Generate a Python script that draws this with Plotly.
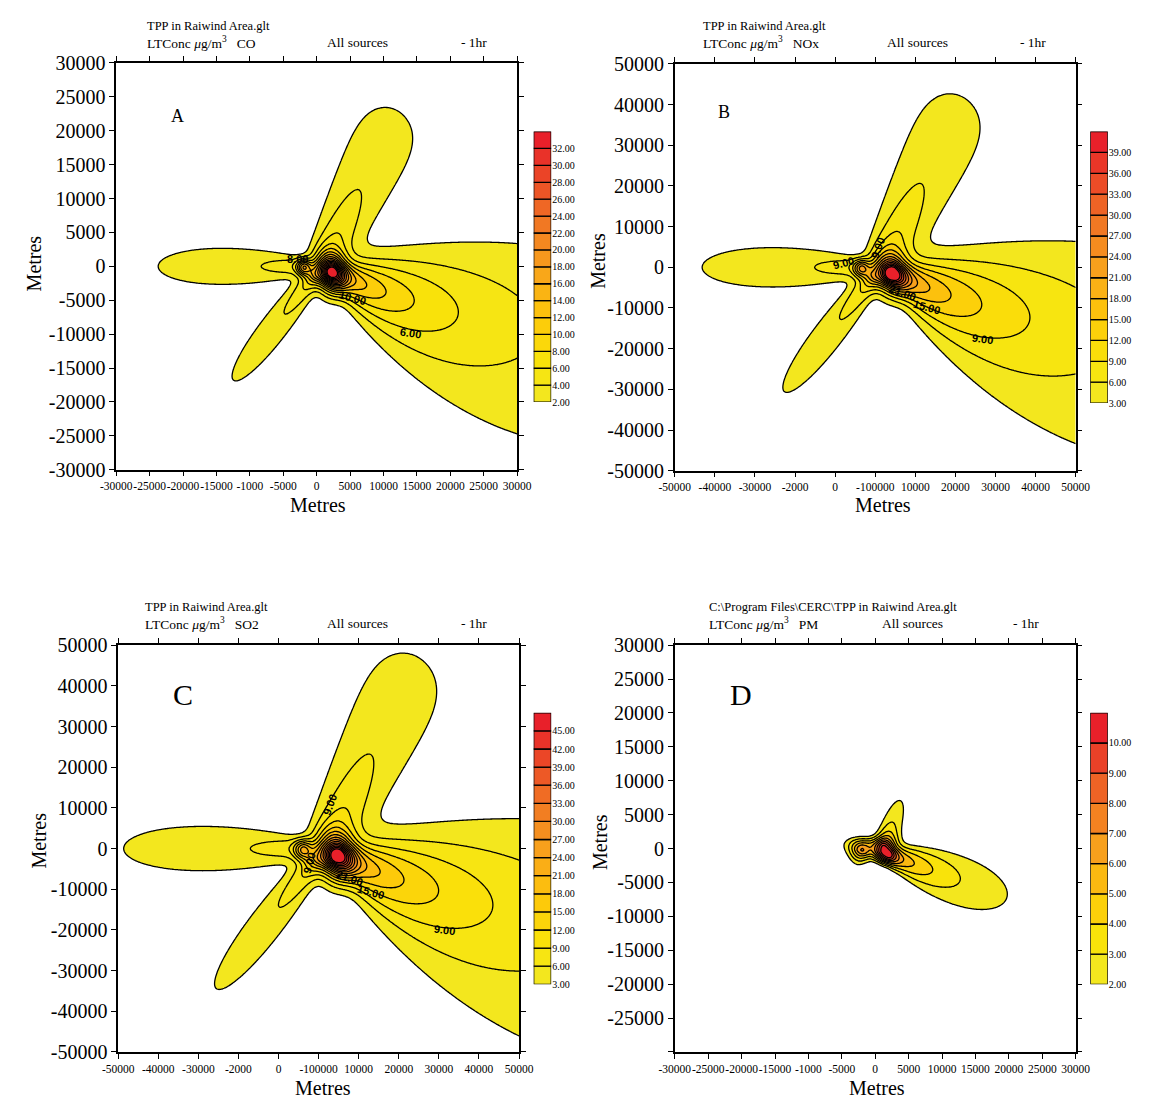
import numpy as np
import plotly.graph_objects as go

W, H = 1152, 1110

# ---------------- contour levels (from the colour keys) ----------------
A_levels = [2, 4, 6, 8, 10, 12, 14, 16, 18, 20, 22, 24, 26, 28, 30, 32]
B_levels = [3, 6, 9, 12, 15, 18, 21, 24, 27, 30, 33, 36, 39]
C_levels = [3, 6, 9, 12, 15, 18, 21, 24, 27, 30, 33, 36, 39, 42, 45]
D_levels = [2, 3, 4, 5, 6, 7, 8, 9, 10]

# ---------------- tick labels as printed ----------------
X30_vals = [-30000, -25000, -20000, -15000, -10000, -5000, 0, 5000, 10000, 15000, 20000, 25000, 30000]
X30_text = ["-30000", "-25000", "-20000", "-15000", "-1000", "-5000", "0", "5000", "10000", "15000", "20000", "25000", "30000"]
X50_vals = [-50000, -40000, -30000, -20000, -10000, 0, 10000, 20000, 30000, 40000, 50000]
X50_text = ["-50000", "-40000", "-30000", "-2000", "0", "-100000", "10000", "20000", "30000", "40000", "50000"]
Y30_vals = X30_vals
Y30_text = [str(v) for v in X30_vals]
Y30D_text = [""] + [str(v) for v in X30_vals[1:]]
Y50_vals = X50_vals
Y50_text = [str(v) for v in X50_vals]

# ---------------- plume description read from panels A-C (metres, CO units) ----------------
# lobes: SE, E, NNE near, NNE far, W, SW
PL_x0 = [2500, 2500, 1000, 1000, -2000, -500]
PL_y0 = [-1000, -500, 0, 0, 0, -1500]
PL_angle = [-29, -6, 66, 63, 180, 232]
PL_amp = [12.5, 5.5, 8.0, 2.5, 5.8, 6.8]
PL_len = [28000, 61700, 10000, 1000000, 30900, 23000]
PL_cut = [1e9, 1e9, 1e9, 27500, 1e9, 1e9]
PL_w0 = [900, 1300, 1500, 2000, 900, 900]
PL_spread = [0.27, 0.24, 0.10, 0.18, 0.17, 0.11]
# hot spots: main stack, second stack
HS_x = [2300, -2000]
HS_y = [-1300, -200]
HS_sx = [1400, 700]
HS_sy = [2100, 800]
A_hs_amp = [14.0, 8.0]
B_hs_amp = [14.0, 10.0]
C_hs_amp = [19.0, 10.0]
# extent / value scale of each panel relative to panel A
A_xy, B_xy, C_xy = 1.0, 1.82, 2.05
A_val, B_val, C_val = 1.0, 1.5, 1.5

# ---------------- PM plume (panel D) ----------------
# lobes: SE, NNE, W bridge, SW, E
D_x0 = [2500, 1000, 1000, -2000, 2500]
D_y0 = [-1200, -500, 500, -500, -300]
D_angle = [-23, 70, 175, 250, -12]
D_amp = [5.0, 6.0, 2.5, 3.0, 2.2]
D_len = [25000, 11000, 8000, 3500, 15000]
D_cut = [1e9, 1e9, 1e9, 1e9, 1e9]
D_w0 = [900, 1000, 700, 900, 1500]
D_spread = [0.27, 0.12, 0.05, 0.1, 0.18]
D_hs_x = [2300, -2200]
D_hs_y = [-1200, -100]
D_hs_amp = [1.5, 3.5]
D_hs_sx = [1000, 1800]
D_hs_sy = [1400, 1300]

# ---------------- contour labels ----------------
A_lab_text = ["6.00", "10.00", "8.00"]
A_lab_x = [14000, 5500, -2800]
A_lab_y = [-9800, -4600, 1100]
A_lab_ang = [8, 15, 0]
B_lab_text = ["9.00", "15.00", "21.00", "9.00", "9.00"]
B_lab_x = [26800, 12800, 7000, -8000, 600]
B_lab_y = [-17600, -9800, -6200, 1000, 4800]
B_lab_ang = [8, 15, 20, -15, -70]
C_lab_text = ["9.00", "15.00", "21.00", "9.00", "9.00"]
C_lab_x = [31500, 13100, 7700, 2700, -2300]
C_lab_y = [-20000, -10700, -7200, 10800, -3600]
C_lab_ang = [8, 15, 20, -70, -75]


def build(X, Y, x0s, y0s, angs, amps, lens, cuts, w0s, spreads, hx, hy, hamp, hsx, hsy, sxy=1.0, sval=1.0):
    Z = np.zeros_like(X)
    for x0, y0, a, amp, L, rc, w0, k in zip(x0s, y0s, angs, amps, lens, cuts, w0s, spreads):
        x0, y0, L, rc, w0 = x0 * sxy, y0 * sxy, L * sxy, rc * sxy, w0 * sxy
        th = np.radians(a)
        dx, dy = X - x0, Y - y0
        r = dx * np.cos(th) + dy * np.sin(th)
        d = -dx * np.sin(th) + dy * np.cos(th)
        rp = np.maximum(r, 0)
        sig = w0 + k * rp
        along = amp / (1 + rp / L) ** 2 * np.exp(-(rp / rc) ** 8)
        up = np.exp(-0.5 * (np.minimum(r, 0) / w0) ** 2)
        Z += sval * along * up * np.exp(-0.5 * (d / sig) ** 2)
    for x, y, a, sx, sy in zip(hx, hy, hamp, hsx, hsy):
        Z += a * np.exp(-0.5 * (((X - x * sxy) / (sx * sxy)) ** 2 + ((Y - y * sxy) / (sy * sxy)) ** 2))
    return Z


ANCH = [(0.0, (243, 231, 30)), (0.12, (249, 228, 10)), (0.3, (253, 200, 10)), (0.5, (248, 160, 28)),
        (0.7, (240, 112, 36)), (0.85, (235, 72, 39)), (1.0, (232, 32, 42))]


def band_colors(n):
    out = []
    for i in range(n):
        t = i / (n - 1)
        for j in range(len(ANCH) - 1):
            t0, c0 = ANCH[j]
            t1, c1 = ANCH[j + 1]
            if t0 <= t <= t1:
                f = (t - t0) / (t1 - t0)
                c = [round(c0[m] + f * (c1[m] - c0[m])) for m in range(3)]
                out.append("rgb(%d,%d,%d)" % tuple(c))
                break
    return out


def px(x):
    return x / W


def py(y):
    return 1 - y / H


fig = go.Figure()
SERIF = "Liberation Serif"

panels = [
    dict(key="", levels=A_levels, rng=30000, xt=(X30_vals, X30_text), yt=(Y30_vals, Y30_text),
         dom=(103, 515, 53, 468), cb=(532, 550, 123, 399),
         field=("PL", A_hs_amp, A_xy, A_val), labs=(A_lab_text, A_lab_x, A_lab_y, A_lab_ang)),
    dict(key="2", levels=B_levels, rng=50000, xt=(X50_vals, X50_text), yt=(Y50_vals, Y50_text),
         dom=(677, 1089, 54, 469), cb=(1104, 1122, 123, 400),
         field=("PL", B_hs_amp, B_xy, B_val), labs=(B_lab_text, B_lab_x, B_lab_y, B_lab_ang)),
    dict(key="3", levels=C_levels, rng=50000, xt=(X50_vals, X50_text), yt=(Y50_vals, Y50_text),
         dom=(105, 517, 647, 1062), cb=(532, 550, 716, 993),
         field=("PL", C_hs_amp, C_xy, C_val), labs=(C_lab_text, C_lab_x, C_lab_y, C_lab_ang)),
    dict(key="4", levels=D_levels, rng=30000, xt=(X30_vals, X30_text), yt=(Y30_vals, Y30D_text),
         dom=(677, 1089, 647, 1062), cb=(1104, 1122, 716, 993),
         field=("D", None, 1.0, 1.0), labs=([], [], [], [])),
]

layout = dict(width=W, height=H, margin=dict(l=0, r=0, t=0, b=0), showlegend=False,
              paper_bgcolor="white", plot_bgcolor="white", barmode="overlay", annotations=[])

for i, p in enumerate(panels):
    k = p["key"]
    ck = str(5 + i)
    rng = p["rng"]
    xs = np.linspace(-rng, rng, 281)
    X, Y = np.meshgrid(xs, xs)
    kind, hamp, sxy, sval = p["field"]
    if kind == "PL":
        Z = build(X, Y, PL_x0, PL_y0, PL_angle, PL_amp, PL_len, PL_cut, PL_w0, PL_spread,
                  HS_x, HS_y, hamp, HS_sx, HS_sy, sxy, sval)
    else:
        Z = build(X, Y, D_x0, D_y0, D_angle, D_amp, D_len, D_cut, D_w0, D_spread,
                  D_hs_x, D_hs_y, D_hs_amp, D_hs_sx, D_hs_sy)
    lv = p["levels"]
    step = lv[1] - lv[0]
    nb = len(lv)
    cols = band_colors(nb)
    cs = [[0, "white"]] + [[(j + 1) / nb, c] for j, c in enumerate(cols)]
    fig.add_trace(go.Contour(
        x=xs, y=xs, z=Z, xaxis="x" + k, yaxis="y" + k,
        autocontour=False, contours=dict(start=lv[0], end=lv[-1], size=step, coloring="fill", showlabels=False),
        colorscale=cs, showscale=False, line=dict(color="black", width=1.3, smoothing=1.0),
        hoverinfo="skip"))
    # colour key as stacked bars
    fig.add_trace(go.Bar(
        x=[0] * nb, y=[step] * nb, base=lv, width=1.0, marker=dict(color=cols, line=dict(color="black", width=1.3)),
        xaxis="x" + ck, yaxis="y" + ck, hoverinfo="skip"))
    x0, x1, y0, y1 = p["dom"]
    ax = dict(domain=[px(x0), px(x1)], range=[-rng, rng], showline=True, linecolor="black", linewidth=1.5,
              mirror="ticks", ticks="outside", ticklen=5, tickwidth=1.3, tickcolor="black",
              showgrid=False, zeroline=False)
    layout["xaxis" + k] = dict(ax, anchor="y" + k, tickmode="array", tickvals=p["xt"][0], ticktext=p["xt"][1],
                               tickangle=0, tickfont=dict(family=SERIF, size=11.5, color="black"))
    layout["yaxis" + k] = dict(ax, domain=[py(y1), py(y0)], anchor="x" + k, tickmode="array",
                               tickvals=p["yt"][0], ticktext=p["yt"][1],
                               tickfont=dict(family=SERIF, size=20, color="black"))
    cx0, cx1, cy0, cy1 = p["cb"]
    layout["xaxis" + ck] = dict(domain=[px(cx0), px(cx1)], range=[-0.5, 0.5], visible=False, anchor="y" + ck)
    layout["yaxis" + ck] = dict(domain=[py(cy1), py(cy0)], range=[lv[0], lv[-1] + step], anchor="x" + ck,
                                side="right", showgrid=False, zeroline=False, showline=False, ticks="",
                                tickmode="array", tickvals=lv, ticktext=["%.2f" % v for v in lv],
                                tickfont=dict(family=SERIF, size=10, color="black"))
    # contour labels
    for t, lx, ly, la in zip(*p["labs"]):
        layout["annotations"].append(dict(x=lx, y=ly, xref="x" + k, yref="y" + k, text="<b>%s</b>" % t,
                                          showarrow=False, textangle=la,
                                          font=dict(family="Liberation Sans", size=11, color="black")))


def txt(x, y, s, size=13, anchor="left", angle=0):
    layout["annotations"].append(dict(x=px(x), y=py(y), xref="paper", yref="paper", text=s, showarrow=False,
                                      xanchor=anchor, yanchor="middle", textangle=angle,
                                      font=dict(family=SERIF, size=size, color="black")))


UNIT = "LTConc <i>μ</i>g/m<sup>3</sup>   "
titles = [
    (133, 15, 32, "TPP in Raiwind Area.glt", "CO", 318, 455),
    (704, 15, 32, "TPP in Raiwind Area.glt", "NOx", 893, 1030),
    (131, 608, 625, "TPP in Raiwind Area.glt", "SO2", 318, 455),
    (710, 608, 625, "C:\\Program Files\\CERC\\TPP in Raiwind Area.glt", "PM", 888, 1023),
]
for x, y1, y2, l1, pol, xs_, xh in titles:
    txt(x, y1, l1, size=12.5)
    txt(x, y2, UNIT + pol, size=13.5)
    txt(xs_, y2, "All sources", size=13.5)
    txt(xh, y2, "- 1hr", size=13.5)

for (x, y, s, size) in [(166, 107, "A", 18), (728, 103, "B", 18), (172, 697, "C", 30), (745, 697, "D", 30)]:
    txt(x, y, s, size=size, anchor="center")

for (x, y) in [(310, 504), (891, 504), (316, 1099), (885, 1099)]:
    txt(x, y, "Metres", size=20, anchor="center")
for (x, y) in [(18, 258), (598, 255), (24, 846), (600, 848)]:
    txt(x, y, "Metres", size=20, anchor="center", angle=-90)

fig.update_layout(**layout)
fig.write_html("out.html", config={"displayModeBar": False},
               post_script="document.body.style.margin='0';document.body.style.overflow='hidden';"
                           "document.documentElement.style.overflow='hidden';")
